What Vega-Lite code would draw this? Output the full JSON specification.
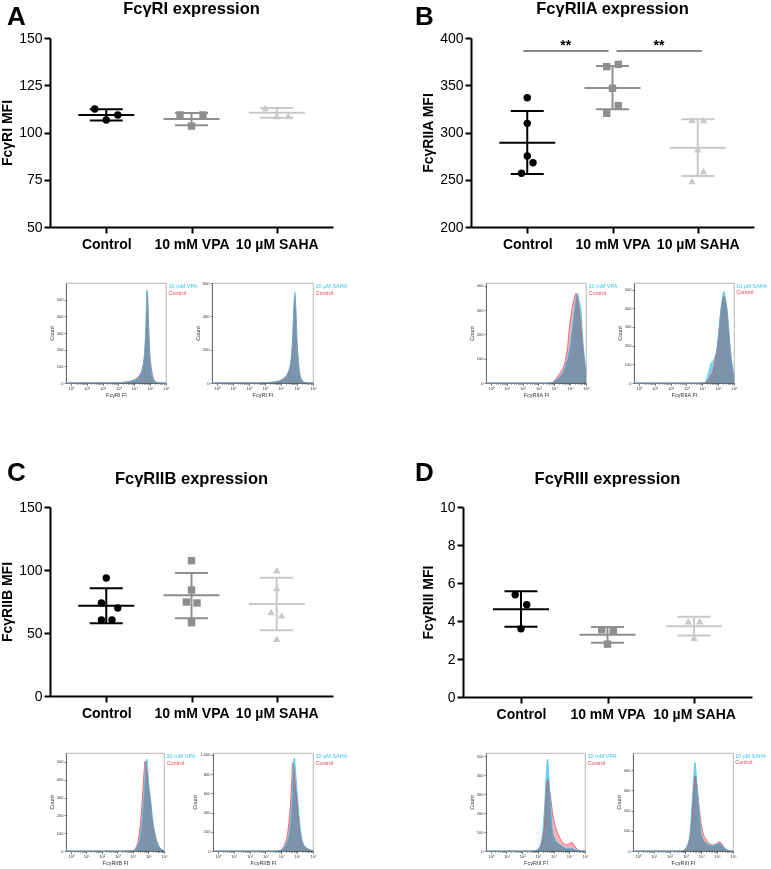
{
"$schema": "https://vega.github.io/schema/vega-lite/v6.json",
"background": "white",
"padding": {"left": 0, "top": 0, "right": 0, "bottom": 0},
"config": {
  "font": "Liberation Sans",
  "view": {"stroke": null},
  "title": {"font": "Liberation Sans", "color": "black"},
  "axis": {"labelFont": "Liberation Sans", "titleFont": "Liberation Sans", "labelFontSize": 14, "labelColor": "black", "domainColor": "black", "domainWidth": 2, "tickColor": "black", "tickWidth": 2, "tickSize": 6, "grid": false, "titleFontSize": 14, "titleFontWeight": "bold", "titleColor": "black", "labelPadding": 2, "titlePadding": 4, "labelOverlap": false}
},
"columns": 4,
"bounds": "flush",
"align": "each",
"spacing": {"row": 56, "column": 0},
"resolve": {"scale": {"color": "independent", "stroke": "independent", "shape": "independent"}, "legend": {"color": "independent", "stroke": "independent", "shape": "independent"}},
"datasets": {
  "A_pts": [
    {"group": "Control", "mfi": 112.4, "j": -1}, {"group": "Control", "mfi": 106.6, "j": 0}, {"group": "Control", "mfi": 109.3, "j": 1},
    {"group": "10 mM VPA", "mfi": 109.3, "j": -1}, {"group": "10 mM VPA", "mfi": 109.3, "j": 1}, {"group": "10 mM VPA", "mfi": 103.4, "j": 0},
    {"group": "10 µM SAHA", "mfi": 113.0, "j": -1}, {"group": "10 µM SAHA", "mfi": 108.7, "j": 0}, {"group": "10 µM SAHA", "mfi": 108.7, "j": 1}
  ],
  "A_sum": [
    {"group": "Control", "mean": 109.3, "lo": 106.4, "hi": 112.3},
    {"group": "10 mM VPA", "mean": 107.1, "lo": 103.8, "hi": 110.3},
    {"group": "10 µM SAHA", "mean": 110.5, "lo": 107.8, "hi": 113.0}
  ],
  "B_pts": [
    {"group": "Control", "mfi": 336.8, "j": 0}, {"group": "Control", "mfi": 309.7, "j": 0}, {"group": "Control", "mfi": 275.1, "j": 0}, {"group": "Control", "mfi": 268.0, "j": 0.5}, {"group": "Control", "mfi": 256.8, "j": -0.5},
    {"group": "10 mM VPA", "mfi": 369.7, "j": -0.5}, {"group": "10 mM VPA", "mfi": 372.1, "j": 0.5}, {"group": "10 mM VPA", "mfi": 346.8, "j": 0}, {"group": "10 mM VPA", "mfi": 328.4, "j": 0.5}, {"group": "10 mM VPA", "mfi": 320.3, "j": -0.5},
    {"group": "10 µM SAHA", "mfi": 313.2, "j": -0.5}, {"group": "10 µM SAHA", "mfi": 313.2, "j": 0.5}, {"group": "10 µM SAHA", "mfi": 282.2, "j": 0}, {"group": "10 µM SAHA", "mfi": 259.3, "j": 0.5}, {"group": "10 µM SAHA", "mfi": 248.7, "j": -0.5}
  ],
  "B_sum": [
    {"group": "Control", "mean": 289.2, "lo": 256.1, "hi": 322.8},
    {"group": "10 mM VPA", "mean": 347.1, "lo": 324.5, "hi": 370.4},
    {"group": "10 µM SAHA", "mean": 283.9, "lo": 254.0, "hi": 314.0}
  ],
  "B_sig": [
    {"from": "Control", "to": "10 mM VPA", "y": 386.2, "label": "**"},
    {"from": "10 mM VPA", "to": "10 µM SAHA", "y": 386.2, "label": "**"}
  ],
  "C_pts": [
    {"group": "Control", "mfi": 93.7, "j": 0}, {"group": "Control", "mfi": 73.8, "j": -0.42}, {"group": "Control", "mfi": 69.8, "j": 1}, {"group": "Control", "mfi": 60.3, "j": -0.42}, {"group": "Control", "mfi": 60.3, "j": 0.5},
    {"group": "10 mM VPA", "mfi": 107.4, "j": 0}, {"group": "10 mM VPA", "mfi": 84.1, "j": 0}, {"group": "10 mM VPA", "mfi": 74.6, "j": -0.45}, {"group": "10 mM VPA", "mfi": 73.8, "j": 0.48}, {"group": "10 mM VPA", "mfi": 58.2, "j": 0},
    {"group": "10 µM SAHA", "mfi": 99.8, "j": 0}, {"group": "10 µM SAHA", "mfi": 85.7, "j": 0}, {"group": "10 µM SAHA", "mfi": 66.7, "j": -0.5}, {"group": "10 µM SAHA", "mfi": 64.0, "j": 0.42}, {"group": "10 µM SAHA", "mfi": 45.5, "j": 0}
  ],
  "C_sum": [
    {"group": "Control", "mean": 71.7, "lo": 57.7, "hi": 85.5},
    {"group": "10 mM VPA", "mean": 79.9, "lo": 61.7, "hi": 97.6},
    {"group": "10 µM SAHA", "mean": 73.0, "lo": 52.1, "hi": 93.9}
  ],
  "D_pts": [
    {"group": "Control", "mfi": 5.38, "j": -0.5}, {"group": "Control", "mfi": 4.86, "j": 0.5}, {"group": "Control", "mfi": 3.59, "j": 0},
    {"group": "10 mM VPA", "mfi": 3.54, "j": -0.5}, {"group": "10 mM VPA", "mfi": 3.47, "j": 0.5}, {"group": "10 mM VPA", "mfi": 2.78, "j": 0},
    {"group": "10 µM SAHA", "mfi": 3.99, "j": -0.5}, {"group": "10 µM SAHA", "mfi": 3.99, "j": 0.5}, {"group": "10 µM SAHA", "mfi": 3.12, "j": 0}
  ],
  "D_sum": [
    {"group": "Control", "mean": 4.62, "lo": 3.70, "hi": 5.56},
    {"group": "10 mM VPA", "mean": 3.27, "lo": 2.85, "hi": 3.68},
    {"group": "10 µM SAHA", "mean": 3.73, "lo": 3.24, "hi": 4.23}
  ],
  "hA1": [
    {"sample": "Control", "log_fi": -0.3, "count": 0}, {"sample": "Control", "log_fi": 0.5, "count": 1}, {"sample": "Control", "log_fi": 1.5, "count": 1}, {"sample": "Control", "log_fi": 2.5, "count": 1}, {"sample": "Control", "log_fi": 3.0, "count": 2}, {"sample": "Control", "log_fi": 3.4, "count": 5}, {"sample": "Control", "log_fi": 3.7, "count": 10}, {"sample": "Control", "log_fi": 4.0, "count": 20}, {"sample": "Control", "log_fi": 4.2, "count": 32}, {"sample": "Control", "log_fi": 4.35, "count": 48}, {"sample": "Control", "log_fi": 4.5, "count": 82}, {"sample": "Control", "log_fi": 4.6, "count": 130}, {"sample": "Control", "log_fi": 4.68, "count": 215}, {"sample": "Control", "log_fi": 4.74, "count": 340}, {"sample": "Control", "log_fi": 4.78, "count": 470}, {"sample": "Control", "log_fi": 4.81, "count": 545}, {"sample": "Control", "log_fi": 4.84, "count": 515}, {"sample": "Control", "log_fi": 4.88, "count": 410}, {"sample": "Control", "log_fi": 4.93, "count": 280}, {"sample": "Control", "log_fi": 4.98, "count": 180}, {"sample": "Control", "log_fi": 5.05, "count": 105}, {"sample": "Control", "log_fi": 5.12, "count": 60}, {"sample": "Control", "log_fi": 5.2, "count": 30}, {"sample": "Control", "log_fi": 5.3, "count": 12}, {"sample": "Control", "log_fi": 5.45, "count": 4}, {"sample": "Control", "log_fi": 5.8, "count": 0}, {"sample": "Control", "log_fi": 6.0, "count": 0},
    {"sample": "10 mM VPA", "log_fi": -0.3, "count": 0}, {"sample": "10 mM VPA", "log_fi": 0.5, "count": 1}, {"sample": "10 mM VPA", "log_fi": 1.5, "count": 1}, {"sample": "10 mM VPA", "log_fi": 2.5, "count": 1}, {"sample": "10 mM VPA", "log_fi": 3.0, "count": 2}, {"sample": "10 mM VPA", "log_fi": 3.4, "count": 4}, {"sample": "10 mM VPA", "log_fi": 3.7, "count": 8}, {"sample": "10 mM VPA", "log_fi": 4.0, "count": 16}, {"sample": "10 mM VPA", "log_fi": 4.2, "count": 28}, {"sample": "10 mM VPA", "log_fi": 4.35, "count": 45}, {"sample": "10 mM VPA", "log_fi": 4.5, "count": 80}, {"sample": "10 mM VPA", "log_fi": 4.6, "count": 130}, {"sample": "10 mM VPA", "log_fi": 4.68, "count": 220}, {"sample": "10 mM VPA", "log_fi": 4.74, "count": 350}, {"sample": "10 mM VPA", "log_fi": 4.78, "count": 480}, {"sample": "10 mM VPA", "log_fi": 4.81, "count": 560}, {"sample": "10 mM VPA", "log_fi": 4.84, "count": 520}, {"sample": "10 mM VPA", "log_fi": 4.88, "count": 400}, {"sample": "10 mM VPA", "log_fi": 4.93, "count": 260}, {"sample": "10 mM VPA", "log_fi": 4.98, "count": 160}, {"sample": "10 mM VPA", "log_fi": 5.05, "count": 90}, {"sample": "10 mM VPA", "log_fi": 5.12, "count": 45}, {"sample": "10 mM VPA", "log_fi": 5.2, "count": 20}, {"sample": "10 mM VPA", "log_fi": 5.3, "count": 7}, {"sample": "10 mM VPA", "log_fi": 5.5, "count": 2}, {"sample": "10 mM VPA", "log_fi": 5.8, "count": 0}, {"sample": "10 mM VPA", "log_fi": 6.0, "count": 0}
  ],
  "hA2": [
    {"sample": "Control", "log_fi": -0.3, "count": 0}, {"sample": "Control", "log_fi": 1.0, "count": 1}, {"sample": "Control", "log_fi": 2.5, "count": 1}, {"sample": "Control", "log_fi": 3.2, "count": 3}, {"sample": "Control", "log_fi": 3.6, "count": 6}, {"sample": "Control", "log_fi": 4.0, "count": 16}, {"sample": "Control", "log_fi": 4.25, "count": 32}, {"sample": "Control", "log_fi": 4.45, "count": 60}, {"sample": "Control", "log_fi": 4.6, "count": 112}, {"sample": "Control", "log_fi": 4.7, "count": 210}, {"sample": "Control", "log_fi": 4.78, "count": 370}, {"sample": "Control", "log_fi": 4.84, "count": 500}, {"sample": "Control", "log_fi": 4.87, "count": 525}, {"sample": "Control", "log_fi": 4.9, "count": 490}, {"sample": "Control", "log_fi": 4.95, "count": 380}, {"sample": "Control", "log_fi": 5.0, "count": 255}, {"sample": "Control", "log_fi": 5.07, "count": 150}, {"sample": "Control", "log_fi": 5.15, "count": 72}, {"sample": "Control", "log_fi": 5.25, "count": 30}, {"sample": "Control", "log_fi": 5.4, "count": 8}, {"sample": "Control", "log_fi": 5.7, "count": 1}, {"sample": "Control", "log_fi": 6.0, "count": 0},
    {"sample": "10 µM SAHA", "log_fi": -0.3, "count": 0}, {"sample": "10 µM SAHA", "log_fi": 1.0, "count": 1}, {"sample": "10 µM SAHA", "log_fi": 2.5, "count": 1}, {"sample": "10 µM SAHA", "log_fi": 3.2, "count": 3}, {"sample": "10 µM SAHA", "log_fi": 3.6, "count": 7}, {"sample": "10 µM SAHA", "log_fi": 4.0, "count": 18}, {"sample": "10 µM SAHA", "log_fi": 4.25, "count": 35}, {"sample": "10 µM SAHA", "log_fi": 4.45, "count": 65}, {"sample": "10 µM SAHA", "log_fi": 4.6, "count": 120}, {"sample": "10 µM SAHA", "log_fi": 4.7, "count": 220}, {"sample": "10 µM SAHA", "log_fi": 4.78, "count": 380}, {"sample": "10 µM SAHA", "log_fi": 4.84, "count": 510}, {"sample": "10 µM SAHA", "log_fi": 4.87, "count": 545}, {"sample": "10 µM SAHA", "log_fi": 4.9, "count": 500}, {"sample": "10 µM SAHA", "log_fi": 4.95, "count": 380}, {"sample": "10 µM SAHA", "log_fi": 5.0, "count": 250}, {"sample": "10 µM SAHA", "log_fi": 5.07, "count": 140}, {"sample": "10 µM SAHA", "log_fi": 5.15, "count": 65}, {"sample": "10 µM SAHA", "log_fi": 5.25, "count": 25}, {"sample": "10 µM SAHA", "log_fi": 5.4, "count": 6}, {"sample": "10 µM SAHA", "log_fi": 5.7, "count": 1}, {"sample": "10 µM SAHA", "log_fi": 6.0, "count": 0}
  ],
  "hB1": [
    {"sample": "Control", "log_fi": -0.3, "count": 0}, {"sample": "Control", "log_fi": 3.5, "count": 0}, {"sample": "Control", "log_fi": 3.9, "count": 3}, {"sample": "Control", "log_fi": 4.1, "count": 17}, {"sample": "Control", "log_fi": 4.4, "count": 45}, {"sample": "Control", "log_fi": 4.68, "count": 87}, {"sample": "Control", "log_fi": 4.85, "count": 154}, {"sample": "Control", "log_fi": 4.95, "count": 225}, {"sample": "Control", "log_fi": 5.1, "count": 296}, {"sample": "Control", "log_fi": 5.26, "count": 350}, {"sample": "Control", "log_fi": 5.37, "count": 370}, {"sample": "Control", "log_fi": 5.45, "count": 355}, {"sample": "Control", "log_fi": 5.55, "count": 310}, {"sample": "Control", "log_fi": 5.65, "count": 250}, {"sample": "Control", "log_fi": 5.75, "count": 180}, {"sample": "Control", "log_fi": 5.85, "count": 120}, {"sample": "Control", "log_fi": 5.95, "count": 65}, {"sample": "Control", "log_fi": 6.0, "count": 45},
    {"sample": "10 mM VPA", "log_fi": -0.3, "count": 0}, {"sample": "10 mM VPA", "log_fi": 3.5, "count": 0}, {"sample": "10 mM VPA", "log_fi": 3.9, "count": 2}, {"sample": "10 mM VPA", "log_fi": 4.2, "count": 17}, {"sample": "10 mM VPA", "log_fi": 4.5, "count": 40}, {"sample": "10 mM VPA", "log_fi": 4.78, "count": 87}, {"sample": "10 mM VPA", "log_fi": 5.0, "count": 154}, {"sample": "10 mM VPA", "log_fi": 5.13, "count": 225}, {"sample": "10 mM VPA", "log_fi": 5.26, "count": 296}, {"sample": "10 mM VPA", "log_fi": 5.37, "count": 350}, {"sample": "10 mM VPA", "log_fi": 5.48, "count": 368}, {"sample": "10 mM VPA", "log_fi": 5.56, "count": 340}, {"sample": "10 mM VPA", "log_fi": 5.69, "count": 296}, {"sample": "10 mM VPA", "log_fi": 5.76, "count": 220}, {"sample": "10 mM VPA", "log_fi": 5.83, "count": 154}, {"sample": "10 mM VPA", "log_fi": 5.92, "count": 90}, {"sample": "10 mM VPA", "log_fi": 6.0, "count": 40}
  ],
  "hB2": [
    {"sample": "Control", "log_fi": -0.3, "count": 0}, {"sample": "Control", "log_fi": 3.8, "count": 0}, {"sample": "Control", "log_fi": 4.17, "count": 2}, {"sample": "Control", "log_fi": 4.4, "count": 20}, {"sample": "Control", "log_fi": 4.6, "count": 50}, {"sample": "Control", "log_fi": 4.7, "count": 70}, {"sample": "Control", "log_fi": 4.8, "count": 115}, {"sample": "Control", "log_fi": 4.95, "count": 197}, {"sample": "Control", "log_fi": 5.06, "count": 288}, {"sample": "Control", "log_fi": 5.16, "count": 375}, {"sample": "Control", "log_fi": 5.26, "count": 440}, {"sample": "Control", "log_fi": 5.33, "count": 460}, {"sample": "Control", "log_fi": 5.38, "count": 462}, {"sample": "Control", "log_fi": 5.44, "count": 450}, {"sample": "Control", "log_fi": 5.5, "count": 420}, {"sample": "Control", "log_fi": 5.58, "count": 370}, {"sample": "Control", "log_fi": 5.66, "count": 285}, {"sample": "Control", "log_fi": 5.75, "count": 195}, {"sample": "Control", "log_fi": 5.82, "count": 130}, {"sample": "Control", "log_fi": 5.9, "count": 85}, {"sample": "Control", "log_fi": 6.0, "count": 25},
    {"sample": "10 µM SAHA", "log_fi": -0.3, "count": 0}, {"sample": "10 µM SAHA", "log_fi": 3.8, "count": 0}, {"sample": "10 µM SAHA", "log_fi": 4.17, "count": 3}, {"sample": "10 µM SAHA", "log_fi": 4.3, "count": 30}, {"sample": "10 µM SAHA", "log_fi": 4.45, "count": 70}, {"sample": "10 µM SAHA", "log_fi": 4.55, "count": 105}, {"sample": "10 µM SAHA", "log_fi": 4.66, "count": 115}, {"sample": "10 µM SAHA", "log_fi": 4.8, "count": 140}, {"sample": "10 µM SAHA", "log_fi": 4.95, "count": 197}, {"sample": "10 µM SAHA", "log_fi": 5.06, "count": 288}, {"sample": "10 µM SAHA", "log_fi": 5.16, "count": 380}, {"sample": "10 µM SAHA", "log_fi": 5.26, "count": 450}, {"sample": "10 µM SAHA", "log_fi": 5.32, "count": 480}, {"sample": "10 µM SAHA", "log_fi": 5.37, "count": 490}, {"sample": "10 µM SAHA", "log_fi": 5.42, "count": 470}, {"sample": "10 µM SAHA", "log_fi": 5.5, "count": 430}, {"sample": "10 µM SAHA", "log_fi": 5.58, "count": 380}, {"sample": "10 µM SAHA", "log_fi": 5.66, "count": 290}, {"sample": "10 µM SAHA", "log_fi": 5.75, "count": 197}, {"sample": "10 µM SAHA", "log_fi": 5.82, "count": 130}, {"sample": "10 µM SAHA", "log_fi": 5.9, "count": 87}, {"sample": "10 µM SAHA", "log_fi": 6.0, "count": 25}
  ],
  "hC1": [
    {"sample": "Control", "log_fi": -0.3, "count": 0}, {"sample": "Control", "log_fi": 3.6, "count": 0}, {"sample": "Control", "log_fi": 4.0, "count": 3}, {"sample": "Control", "log_fi": 4.2, "count": 20}, {"sample": "Control", "log_fi": 4.41, "count": 97}, {"sample": "Control", "log_fi": 4.5, "count": 170}, {"sample": "Control", "log_fi": 4.6, "count": 287}, {"sample": "Control", "log_fi": 4.7, "count": 420}, {"sample": "Control", "log_fi": 4.78, "count": 505}, {"sample": "Control", "log_fi": 4.83, "count": 490}, {"sample": "Control", "log_fi": 4.9, "count": 440}, {"sample": "Control", "log_fi": 5.0, "count": 360}, {"sample": "Control", "log_fi": 5.12, "count": 287}, {"sample": "Control", "log_fi": 5.22, "count": 200}, {"sample": "Control", "log_fi": 5.4, "count": 97}, {"sample": "Control", "log_fi": 5.6, "count": 38}, {"sample": "Control", "log_fi": 5.8, "count": 12}, {"sample": "Control", "log_fi": 6.0, "count": 3},
    {"sample": "10 mM VPA", "log_fi": -0.3, "count": 0}, {"sample": "10 mM VPA", "log_fi": 3.6, "count": 0}, {"sample": "10 mM VPA", "log_fi": 4.03, "count": 3}, {"sample": "10 mM VPA", "log_fi": 4.25, "count": 20}, {"sample": "10 mM VPA", "log_fi": 4.5, "count": 97}, {"sample": "10 mM VPA", "log_fi": 4.6, "count": 180}, {"sample": "10 mM VPA", "log_fi": 4.69, "count": 287}, {"sample": "10 mM VPA", "log_fi": 4.78, "count": 420}, {"sample": "10 mM VPA", "log_fi": 4.85, "count": 495}, {"sample": "10 mM VPA", "log_fi": 4.89, "count": 515}, {"sample": "10 mM VPA", "log_fi": 4.95, "count": 470}, {"sample": "10 mM VPA", "log_fi": 5.02, "count": 380}, {"sample": "10 mM VPA", "log_fi": 5.14, "count": 287}, {"sample": "10 mM VPA", "log_fi": 5.25, "count": 190}, {"sample": "10 mM VPA", "log_fi": 5.42, "count": 97}, {"sample": "10 mM VPA", "log_fi": 5.6, "count": 40}, {"sample": "10 mM VPA", "log_fi": 5.8, "count": 12}, {"sample": "10 mM VPA", "log_fi": 6.0, "count": 3}
  ],
  "hC2": [
    {"sample": "Control", "log_fi": -0.3, "count": 0}, {"sample": "Control", "log_fi": 3.5, "count": 0}, {"sample": "Control", "log_fi": 3.9, "count": 6}, {"sample": "Control", "log_fi": 4.15, "count": 45}, {"sample": "Control", "log_fi": 4.4, "count": 180}, {"sample": "Control", "log_fi": 4.5, "count": 330}, {"sample": "Control", "log_fi": 4.6, "count": 532}, {"sample": "Control", "log_fi": 4.67, "count": 780}, {"sample": "Control", "log_fi": 4.72, "count": 917}, {"sample": "Control", "log_fi": 4.78, "count": 880}, {"sample": "Control", "log_fi": 4.88, "count": 700}, {"sample": "Control", "log_fi": 4.98, "count": 532}, {"sample": "Control", "log_fi": 5.1, "count": 320}, {"sample": "Control", "log_fi": 5.2, "count": 180}, {"sample": "Control", "log_fi": 5.38, "count": 70}, {"sample": "Control", "log_fi": 5.6, "count": 30}, {"sample": "Control", "log_fi": 5.8, "count": 12}, {"sample": "Control", "log_fi": 6.0, "count": 5},
    {"sample": "10 µM SAHA", "log_fi": -0.3, "count": 0}, {"sample": "10 µM SAHA", "log_fi": 3.5, "count": 0}, {"sample": "10 µM SAHA", "log_fi": 3.92, "count": 5}, {"sample": "10 µM SAHA", "log_fi": 4.2, "count": 40}, {"sample": "10 µM SAHA", "log_fi": 4.5, "count": 180}, {"sample": "10 µM SAHA", "log_fi": 4.6, "count": 340}, {"sample": "10 µM SAHA", "log_fi": 4.68, "count": 532}, {"sample": "10 µM SAHA", "log_fi": 4.75, "count": 800}, {"sample": "10 µM SAHA", "log_fi": 4.82, "count": 969}, {"sample": "10 µM SAHA", "log_fi": 4.87, "count": 900}, {"sample": "10 µM SAHA", "log_fi": 4.95, "count": 720}, {"sample": "10 µM SAHA", "log_fi": 5.04, "count": 532}, {"sample": "10 µM SAHA", "log_fi": 5.14, "count": 330}, {"sample": "10 µM SAHA", "log_fi": 5.24, "count": 180}, {"sample": "10 µM SAHA", "log_fi": 5.4, "count": 70}, {"sample": "10 µM SAHA", "log_fi": 5.6, "count": 30}, {"sample": "10 µM SAHA", "log_fi": 5.8, "count": 12}, {"sample": "10 µM SAHA", "log_fi": 6.0, "count": 5}
  ],
  "hD1": [
    {"sample": "Control", "log_fi": -0.3, "count": 0}, {"sample": "Control", "log_fi": 2.5, "count": 0}, {"sample": "Control", "log_fi": 2.86, "count": 2}, {"sample": "Control", "log_fi": 3.1, "count": 15}, {"sample": "Control", "log_fi": 3.39, "count": 114}, {"sample": "Control", "log_fi": 3.5, "count": 290}, {"sample": "Control", "log_fi": 3.58, "count": 360}, {"sample": "Control", "log_fi": 3.63, "count": 377}, {"sample": "Control", "log_fi": 3.7, "count": 340}, {"sample": "Control", "log_fi": 3.8, "count": 290}, {"sample": "Control", "log_fi": 3.96, "count": 184}, {"sample": "Control", "log_fi": 4.17, "count": 114}, {"sample": "Control", "log_fi": 4.3, "count": 85}, {"sample": "Control", "log_fi": 4.45, "count": 61}, {"sample": "Control", "log_fi": 4.6, "count": 42}, {"sample": "Control", "log_fi": 4.8, "count": 32}, {"sample": "Control", "log_fi": 4.95, "count": 36}, {"sample": "Control", "log_fi": 5.1, "count": 44}, {"sample": "Control", "log_fi": 5.2, "count": 43}, {"sample": "Control", "log_fi": 5.35, "count": 25}, {"sample": "Control", "log_fi": 5.51, "count": 8}, {"sample": "Control", "log_fi": 5.7, "count": 2}, {"sample": "Control", "log_fi": 6.0, "count": 0},
    {"sample": "10 mM VPA", "log_fi": -0.3, "count": 0}, {"sample": "10 mM VPA", "log_fi": 2.5, "count": 0}, {"sample": "10 mM VPA", "log_fi": 2.86, "count": 3}, {"sample": "10 mM VPA", "log_fi": 3.1, "count": 20}, {"sample": "10 mM VPA", "log_fi": 3.33, "count": 114}, {"sample": "10 mM VPA", "log_fi": 3.47, "count": 290}, {"sample": "10 mM VPA", "log_fi": 3.55, "count": 420}, {"sample": "10 mM VPA", "log_fi": 3.62, "count": 483}, {"sample": "10 mM VPA", "log_fi": 3.68, "count": 420}, {"sample": "10 mM VPA", "log_fi": 3.77, "count": 290}, {"sample": "10 mM VPA", "log_fi": 3.85, "count": 180}, {"sample": "10 mM VPA", "log_fi": 3.92, "count": 114}, {"sample": "10 mM VPA", "log_fi": 4.05, "count": 70}, {"sample": "10 mM VPA", "log_fi": 4.25, "count": 45}, {"sample": "10 mM VPA", "log_fi": 4.5, "count": 28}, {"sample": "10 mM VPA", "log_fi": 4.8, "count": 15}, {"sample": "10 mM VPA", "log_fi": 5.15, "count": 13}, {"sample": "10 mM VPA", "log_fi": 5.45, "count": 5}, {"sample": "10 mM VPA", "log_fi": 5.7, "count": 1}, {"sample": "10 mM VPA", "log_fi": 6.0, "count": 0}
  ],
  "hD2": [
    {"sample": "Control", "log_fi": -0.3, "count": 0}, {"sample": "Control", "log_fi": 2.5, "count": 0}, {"sample": "Control", "log_fi": 2.87, "count": 2}, {"sample": "Control", "log_fi": 3.1, "count": 18}, {"sample": "Control", "log_fi": 3.33, "count": 87}, {"sample": "Control", "log_fi": 3.47, "count": 253}, {"sample": "Control", "log_fi": 3.55, "count": 340}, {"sample": "Control", "log_fi": 3.62, "count": 370}, {"sample": "Control", "log_fi": 3.7, "count": 340}, {"sample": "Control", "log_fi": 3.82, "count": 253}, {"sample": "Control", "log_fi": 3.95, "count": 160}, {"sample": "Control", "log_fi": 4.12, "count": 87}, {"sample": "Control", "log_fi": 4.3, "count": 58}, {"sample": "Control", "log_fi": 4.5, "count": 38}, {"sample": "Control", "log_fi": 4.74, "count": 29}, {"sample": "Control", "log_fi": 4.95, "count": 36}, {"sample": "Control", "log_fi": 5.12, "count": 45}, {"sample": "Control", "log_fi": 5.25, "count": 40}, {"sample": "Control", "log_fi": 5.4, "count": 22}, {"sample": "Control", "log_fi": 5.55, "count": 8}, {"sample": "Control", "log_fi": 5.7, "count": 3}, {"sample": "Control", "log_fi": 6.0, "count": 0},
    {"sample": "10 µM SAHA", "log_fi": -0.3, "count": 0}, {"sample": "10 µM SAHA", "log_fi": 2.5, "count": 0}, {"sample": "10 µM SAHA", "log_fi": 2.87, "count": 3}, {"sample": "10 µM SAHA", "log_fi": 3.1, "count": 25}, {"sample": "10 µM SAHA", "log_fi": 3.29, "count": 87}, {"sample": "10 µM SAHA", "log_fi": 3.44, "count": 253}, {"sample": "10 µM SAHA", "log_fi": 3.53, "count": 370}, {"sample": "10 µM SAHA", "log_fi": 3.61, "count": 437}, {"sample": "10 µM SAHA", "log_fi": 3.68, "count": 380}, {"sample": "10 µM SAHA", "log_fi": 3.8, "count": 253}, {"sample": "10 µM SAHA", "log_fi": 3.9, "count": 160}, {"sample": "10 µM SAHA", "log_fi": 4.0, "count": 87}, {"sample": "10 µM SAHA", "log_fi": 4.15, "count": 55}, {"sample": "10 µM SAHA", "log_fi": 4.35, "count": 38}, {"sample": "10 µM SAHA", "log_fi": 4.6, "count": 27}, {"sample": "10 µM SAHA", "log_fi": 4.85, "count": 28}, {"sample": "10 µM SAHA", "log_fi": 5.05, "count": 36}, {"sample": "10 µM SAHA", "log_fi": 5.15, "count": 38}, {"sample": "10 µM SAHA", "log_fi": 5.3, "count": 28}, {"sample": "10 µM SAHA", "log_fi": 5.5, "count": 10}, {"sample": "10 µM SAHA", "log_fi": 5.7, "count": 3}, {"sample": "10 µM SAHA", "log_fi": 6.0, "count": 0}
  ]
},
"concat": [
  {"width": 50, "height": 1, "data": {"values": []}, "mark": "point",
   "title": {"text": "A", "fontSize": 26, "fontWeight": "bold", "anchor": "start", "dx": 7, "offset": 0, "dy": 13, "baseline": "alphabetic"}},
  {"width": 283, "height": 189,
   "title": {"text": "FcγRI expression", "fontSize": 16.5, "fontWeight": "bold", "anchor": "middle", "offset": 1, "baseline": "alphabetic"},
   "layer": [
    {"data": {"name": "A_sum"}, "mark": {"type": "rule", "strokeWidth": 2},
     "encoding": {"x": {"field": "group", "type": "nominal", "scale": {"type": "point", "domain": ["Control", "10 mM VPA", "10 µM SAHA"], "padding": 0.66}, "axis": {"labelFontWeight": "bold", "labelAngle": 0, "labelPadding": 4, "labelOverlap": false}, "title": null},
      "y": {"field": "lo", "type": "quantitative", "scale": {"domain": [50, 150], "nice": false, "zero": false}, "axis": {"values": [50, 75, 100, 125, 150], "tickCount": 20, "format": "d"}, "title": "FcγRI MFI"},
      "y2": {"field": "hi"},
      "color": {"field": "group", "type": "nominal", "scale": {"domain": ["Control", "10 mM VPA", "10 µM SAHA"], "range": ["#000000", "#8e8e8e", "#c9c9c9"]}, "legend": null}}},
    {"data": {"name": "A_sum"}, "mark": {"type": "tick", "size": 33, "thickness": 2, "orient": "horizontal", "opacity": 1},
     "encoding": {"x": {"field": "group", "type": "nominal", "title": null}, "y": {"field": "lo", "type": "quantitative", "title": "FcγRI MFI"}, "color": {"field": "group", "type": "nominal", "legend": null}}},
    {"data": {"name": "A_sum"}, "mark": {"type": "tick", "size": 33, "thickness": 2, "orient": "horizontal", "opacity": 1},
     "encoding": {"x": {"field": "group", "type": "nominal", "title": null}, "y": {"field": "hi", "type": "quantitative", "title": "FcγRI MFI"}, "color": {"field": "group", "type": "nominal", "legend": null}}},
    {"data": {"name": "A_sum"}, "mark": {"type": "tick", "size": 56, "thickness": 2, "orient": "horizontal", "opacity": 1},
     "encoding": {"x": {"field": "group", "type": "nominal", "title": null}, "y": {"field": "mean", "type": "quantitative", "title": "FcγRI MFI"}, "color": {"field": "group", "type": "nominal", "legend": null}}},
    {"data": {"name": "A_pts"}, "mark": {"type": "point", "filled": true, "opacity": 1, "size": 55},
     "encoding": {"x": {"field": "group", "type": "nominal", "title": null},
      "xOffset": {"field": "j", "type": "quantitative", "scale": {"domain": [-1, 1], "range": [-11.5, 11.5]}},
      "y": {"field": "mfi", "type": "quantitative", "title": "FcγRI MFI"},
      "color": {"field": "group", "type": "nominal", "legend": null},
      "shape": {"field": "group", "type": "nominal", "scale": {"domain": ["Control", "10 mM VPA", "10 µM SAHA"], "range": ["circle", "square", "triangle-up"]}, "legend": null}}}
   ]},
  {"width": 130, "height": 1, "data": {"values": []}, "mark": "point",
   "title": {"text": "B", "fontSize": 26, "fontWeight": "bold", "anchor": "start", "dx": 82, "offset": 0, "dy": 13, "baseline": "alphabetic"}},
  {"hconcat": [
    {"width": 8, "height": 1, "data": {"values": []}, "mark": "point"},
    {"width": 283, "height": 189,
     "title": {"text": "FcγRIIA expression", "fontSize": 16.5, "fontWeight": "bold", "anchor": "middle", "offset": 1, "baseline": "alphabetic"},
     "layer": [
      {"data": {"name": "B_sum"}, "mark": {"type": "rule", "strokeWidth": 2},
       "encoding": {"x": {"field": "group", "type": "nominal", "scale": {"type": "point", "domain": ["Control", "10 mM VPA", "10 µM SAHA"], "padding": 0.66}, "axis": {"labelFontWeight": "bold", "labelAngle": 0, "labelPadding": 4, "labelOverlap": false}, "title": null},
        "y": {"field": "lo", "type": "quantitative", "scale": {"domain": [200, 400], "nice": false, "zero": false}, "axis": {"values": [200, 250, 300, 350, 400], "tickCount": 20, "format": "d"}, "title": "FcγRIIA MFI"},
        "y2": {"field": "hi"},
        "color": {"field": "group", "type": "nominal", "scale": {"domain": ["Control", "10 mM VPA", "10 µM SAHA"], "range": ["#000000", "#8e8e8e", "#c9c9c9"]}, "legend": null}}},
      {"data": {"name": "B_sum"}, "mark": {"type": "tick", "size": 33, "thickness": 2, "orient": "horizontal", "opacity": 1},
       "encoding": {"x": {"field": "group", "type": "nominal", "title": null}, "y": {"field": "lo", "type": "quantitative", "title": "FcγRIIA MFI"}, "color": {"field": "group", "type": "nominal", "legend": null}}},
      {"data": {"name": "B_sum"}, "mark": {"type": "tick", "size": 33, "thickness": 2, "orient": "horizontal", "opacity": 1},
       "encoding": {"x": {"field": "group", "type": "nominal", "title": null}, "y": {"field": "hi", "type": "quantitative", "title": "FcγRIIA MFI"}, "color": {"field": "group", "type": "nominal", "legend": null}}},
      {"data": {"name": "B_sum"}, "mark": {"type": "tick", "size": 56, "thickness": 2, "orient": "horizontal", "opacity": 1},
       "encoding": {"x": {"field": "group", "type": "nominal", "title": null}, "y": {"field": "mean", "type": "quantitative", "title": "FcγRIIA MFI"}, "color": {"field": "group", "type": "nominal", "legend": null}}},
      {"data": {"name": "B_pts"}, "mark": {"type": "point", "filled": true, "opacity": 1, "size": 55},
       "encoding": {"x": {"field": "group", "type": "nominal", "title": null},
        "xOffset": {"field": "j", "type": "quantitative", "scale": {"domain": [-1, 1], "range": [-11.5, 11.5]}},
        "y": {"field": "mfi", "type": "quantitative", "title": "FcγRIIA MFI"},
        "color": {"field": "group", "type": "nominal", "legend": null},
        "shape": {"field": "group", "type": "nominal", "scale": {"domain": ["Control", "10 mM VPA", "10 µM SAHA"], "range": ["circle", "square", "triangle-up"]}, "legend": null}}},
      {"data": {"name": "B_sig"}, "transform": [{"filter": "datum.from === 'Control'"}],
       "mark": {"type": "rule", "strokeWidth": 1.5, "color": "#5f5f5f", "xOffset": -4, "x2Offset": -4},
       "encoding": {"x": {"field": "from", "type": "nominal", "title": null}, "x2": {"field": "to"}, "y": {"field": "y", "type": "quantitative", "title": "FcγRIIA MFI"}}},
      {"data": {"name": "B_sig"}, "transform": [{"filter": "datum.from !== 'Control'"}],
       "mark": {"type": "rule", "strokeWidth": 1.5, "color": "#5f5f5f", "xOffset": 4, "x2Offset": 4},
       "encoding": {"x": {"field": "from", "type": "nominal", "title": null}, "x2": {"field": "to"}, "y": {"field": "y", "type": "quantitative", "title": "FcγRIIA MFI"}}},
      {"data": {"name": "B_sig"}, "transform": [{"filter": "datum.from === 'Control'"}],
       "mark": {"type": "text", "fontSize": 14, "fontWeight": "bold", "dx": 38.5, "dy": -1, "baseline": "alphabetic", "align": "center", "color": "black"},
       "encoding": {"x": {"field": "from", "type": "nominal", "title": null}, "y": {"field": "y", "type": "quantitative", "title": "FcγRIIA MFI"}, "text": {"field": "label"}}},
      {"data": {"name": "B_sig"}, "transform": [{"filter": "datum.from !== 'Control'"}],
       "mark": {"type": "text", "fontSize": 14, "fontWeight": "bold", "dx": 46.5, "dy": -1, "baseline": "alphabetic", "align": "center", "color": "black"},
       "encoding": {"x": {"field": "from", "type": "nominal", "title": null}, "y": {"field": "y", "type": "quantitative", "title": "FcγRIIA MFI"}, "text": {"field": "label"}}}
     ]}
   ], "spacing": 0, "bounds": "flush", "resolve": {"scale": {"color": "independent", "shape": "independent"}}},

  {"width": 50, "height": 168, "data": {"values": []}, "mark": "point"},
  {"hconcat": [
    {"width": 16, "height": 1, "data": {"values": []}, "mark": "point"},
    {"width": 100, "height": 100, "view": {"stroke": "#a3a3a3", "strokeWidth": 0.8}, "data": {"name": "hA1"},
     "encoding": {
      "x": {"field": "log_fi", "type": "quantitative", "scale": {"domain": [-0.3, 6], "nice": false, "zero": false},
       "axis": {"title": "FcγRI FI", "tickCount": 200, "values": [0,0.301,0.477,0.602,0.699,0.778,0.845,0.903,0.954,1,1.301,1.477,1.602,1.699,1.778,1.845,1.903,1.954,2,2.301,2.477,2.602,2.699,2.778,2.845,2.903,2.954,3,3.301,3.477,3.602,3.699,3.778,3.845,3.903,3.954,4,4.301,4.477,4.602,4.699,4.778,4.845,4.903,4.954,5,5.301,5.477,5.602,5.699,5.778,5.845,5.903,5.954,6], "labelExpr": "datum.value % 1 === 0 ? '10' + ['⁰','¹','²','³','⁴','⁵','⁶'][datum.value] : ''", "labelFontSize": 4, "labelPadding": 1, "labelColor": "#333", "labelFontWeight": "normal", "labelOverlap": false, "labelFlush": false, "tickSize": {"condition": {"test": "datum.value % 1 === 0", "value": 2.5}, "value": 1.2}, "tickWidth": 0.6, "tickColor": "#333", "domainColor": "#444", "domainWidth": 0.7, "titleFontSize": 5.5, "titleFontWeight": "normal", "titleColor": "#333", "titlePadding": 2}},
      "y": {"field": "count", "type": "quantitative", "stack": null, "scale": {"domain": [0, 600], "nice": false},
       "axis": {"title": "Count", "tickCount": 50, "values": [0, 100, 200, 300, 400, 500], "format": ",d", "labelFontSize": 4, "labelPadding": 1, "labelColor": "#333", "labelFontWeight": "normal", "tickSize": 2, "tickWidth": 0.6, "tickColor": "#333", "domainColor": "#444", "domainWidth": 0.7, "titleFontSize": 5.5, "titleFontWeight": "normal", "titleColor": "#333", "titlePadding": 2}}
     },
     "layer": [
      {"mark": {"type": "area", "blend": "multiply", "interpolate": "monotone"},
       "encoding": {"color": {"field": "sample", "type": "nominal", "scale": {"domain": ["10 mM VPA", "Control"], "range": ["#7fd3ee", "#f7b3b7"]},
        "legend": {"title": null, "orient": "right", "offset": -5, "padding": 0, "symbolSize": 0, "symbolStrokeWidth": 0, "symbolOpacity": 0, "labelFontSize": 5.5, "labelOffset": 0, "rowPadding": 0.5, "labelLimit": 0, "encode": {"labels": {"update": {"fill": {"signal": "datum.value === 'Control' ? '#ee4850' : '#33c5f0'"}}}}}}}},
      {"mark": {"type": "line", "strokeWidth": 0.8, "interpolate": "monotone"},
       "encoding": {"stroke": {"field": "sample", "type": "nominal", "scale": {"domain": ["10 mM VPA", "Control"], "range": ["#33c5f0", "#ee4850"]}, "legend": null}}}
     ]},
    {"width": 46, "height": 1, "data": {"values": []}, "mark": "point"},
    {"width": 101, "height": 100, "view": {"stroke": "#a3a3a3", "strokeWidth": 0.8}, "data": {"name": "hA2"},
     "encoding": {
      "x": {"field": "log_fi", "type": "quantitative", "scale": {"domain": [-0.3, 6], "nice": false, "zero": false},
       "axis": {"title": "FcγRI FI", "tickCount": 200, "values": [0,0.301,0.477,0.602,0.699,0.778,0.845,0.903,0.954,1,1.301,1.477,1.602,1.699,1.778,1.845,1.903,1.954,2,2.301,2.477,2.602,2.699,2.778,2.845,2.903,2.954,3,3.301,3.477,3.602,3.699,3.778,3.845,3.903,3.954,4,4.301,4.477,4.602,4.699,4.778,4.845,4.903,4.954,5,5.301,5.477,5.602,5.699,5.778,5.845,5.903,5.954,6], "labelExpr": "datum.value % 1 === 0 ? '10' + ['⁰','¹','²','³','⁴','⁵','⁶'][datum.value] : ''", "labelFontSize": 4, "labelPadding": 1, "labelColor": "#333", "labelFontWeight": "normal", "labelOverlap": false, "labelFlush": false, "tickSize": {"condition": {"test": "datum.value % 1 === 0", "value": 2.5}, "value": 1.2}, "tickWidth": 0.6, "tickColor": "#333", "domainColor": "#444", "domainWidth": 0.7, "titleFontSize": 5.5, "titleFontWeight": "normal", "titleColor": "#333", "titlePadding": 2}},
      "y": {"field": "count", "type": "quantitative", "stack": null, "scale": {"domain": [0, 600], "nice": false},
       "axis": {"title": "Count", "tickCount": 50, "values": [0, 200, 400, 600], "format": ",d", "labelFontSize": 4, "labelPadding": 1, "labelColor": "#333", "labelFontWeight": "normal", "tickSize": 2, "tickWidth": 0.6, "tickColor": "#333", "domainColor": "#444", "domainWidth": 0.7, "titleFontSize": 5.5, "titleFontWeight": "normal", "titleColor": "#333", "titlePadding": 2}}
     },
     "layer": [
      {"mark": {"type": "area", "blend": "multiply", "interpolate": "monotone"},
       "encoding": {"color": {"field": "sample", "type": "nominal", "scale": {"domain": ["10 µM SAHA", "Control"], "range": ["#7fd3ee", "#f7b3b7"]},
        "legend": {"title": null, "orient": "right", "offset": -5, "padding": 0, "symbolSize": 0, "symbolStrokeWidth": 0, "symbolOpacity": 0, "labelFontSize": 5.5, "labelOffset": 0, "rowPadding": 0.5, "labelLimit": 0, "encode": {"labels": {"update": {"fill": {"signal": "datum.value === 'Control' ? '#ee4850' : '#33c5f0'"}}}}}}}},
      {"mark": {"type": "line", "strokeWidth": 0.8, "interpolate": "monotone"},
       "encoding": {"stroke": {"field": "sample", "type": "nominal", "scale": {"domain": ["10 µM SAHA", "Control"], "range": ["#33c5f0", "#ee4850"]}, "legend": null}}}
     ]}
   ], "spacing": 0, "bounds": "flush", "resolve": {"scale": {"color": "independent", "stroke": "independent"}, "legend": {"color": "independent"}}},
  {"width": 130, "height": 1, "data": {"values": []}, "mark": "point"},
  {"hconcat": [
    {"width": 23, "height": 1, "data": {"values": []}, "mark": "point"},
    {"width": 100, "height": 100, "view": {"stroke": "#a3a3a3", "strokeWidth": 0.8}, "data": {"name": "hB1"},
     "encoding": {
      "x": {"field": "log_fi", "type": "quantitative", "scale": {"domain": [-0.3, 6], "nice": false, "zero": false},
       "axis": {"title": "FcγRIIA FI", "tickCount": 200, "values": [0,0.301,0.477,0.602,0.699,0.778,0.845,0.903,0.954,1,1.301,1.477,1.602,1.699,1.778,1.845,1.903,1.954,2,2.301,2.477,2.602,2.699,2.778,2.845,2.903,2.954,3,3.301,3.477,3.602,3.699,3.778,3.845,3.903,3.954,4,4.301,4.477,4.602,4.699,4.778,4.845,4.903,4.954,5,5.301,5.477,5.602,5.699,5.778,5.845,5.903,5.954,6], "labelExpr": "datum.value % 1 === 0 ? '10' + ['⁰','¹','²','³','⁴','⁵','⁶'][datum.value] : ''", "labelFontSize": 4, "labelPadding": 1, "labelColor": "#333", "labelFontWeight": "normal", "labelOverlap": false, "labelFlush": false, "tickSize": {"condition": {"test": "datum.value % 1 === 0", "value": 2.5}, "value": 1.2}, "tickWidth": 0.6, "tickColor": "#333", "domainColor": "#444", "domainWidth": 0.7, "titleFontSize": 5.5, "titleFontWeight": "normal", "titleColor": "#333", "titlePadding": 2}},
      "y": {"field": "count", "type": "quantitative", "stack": null, "scale": {"domain": [0, 412], "nice": false},
       "axis": {"title": "Count", "tickCount": 50, "values": [0, 100, 200, 300, 400], "format": ",d", "labelFontSize": 4, "labelPadding": 1, "labelColor": "#333", "labelFontWeight": "normal", "tickSize": 2, "tickWidth": 0.6, "tickColor": "#333", "domainColor": "#444", "domainWidth": 0.7, "titleFontSize": 5.5, "titleFontWeight": "normal", "titleColor": "#333", "titlePadding": 2}}
     },
     "layer": [
      {"mark": {"type": "area", "blend": "multiply", "interpolate": "monotone"},
       "encoding": {"color": {"field": "sample", "type": "nominal", "scale": {"domain": ["10 mM VPA", "Control"], "range": ["#7fd3ee", "#f7b3b7"]},
        "legend": {"title": null, "orient": "right", "offset": -5, "padding": 0, "symbolSize": 0, "symbolStrokeWidth": 0, "symbolOpacity": 0, "labelFontSize": 5.5, "labelOffset": 0, "rowPadding": 0.5, "labelLimit": 0, "encode": {"labels": {"update": {"fill": {"signal": "datum.value === 'Control' ? '#ee4850' : '#33c5f0'"}}}}}}}},
      {"mark": {"type": "line", "strokeWidth": 0.8, "interpolate": "monotone"},
       "encoding": {"stroke": {"field": "sample", "type": "nominal", "scale": {"domain": ["10 mM VPA", "Control"], "range": ["#33c5f0", "#ee4850"]}, "legend": null}}}
     ]},
    {"width": 48, "height": 1, "data": {"values": []}, "mark": "point"},
    {"width": 100, "height": 100, "view": {"stroke": "#a3a3a3", "strokeWidth": 0.8}, "data": {"name": "hB2"},
     "encoding": {
      "x": {"field": "log_fi", "type": "quantitative", "scale": {"domain": [-0.3, 6], "nice": false, "zero": false},
       "axis": {"title": "FcγRIIA FI", "tickCount": 200, "values": [0,0.301,0.477,0.602,0.699,0.778,0.845,0.903,0.954,1,1.301,1.477,1.602,1.699,1.778,1.845,1.903,1.954,2,2.301,2.477,2.602,2.699,2.778,2.845,2.903,2.954,3,3.301,3.477,3.602,3.699,3.778,3.845,3.903,3.954,4,4.301,4.477,4.602,4.699,4.778,4.845,4.903,4.954,5,5.301,5.477,5.602,5.699,5.778,5.845,5.903,5.954,6], "labelExpr": "datum.value % 1 === 0 ? '10' + ['⁰','¹','²','³','⁴','⁵','⁶'][datum.value] : ''", "labelFontSize": 4, "labelPadding": 1, "labelColor": "#333", "labelFontWeight": "normal", "labelOverlap": false, "labelFlush": false, "tickSize": {"condition": {"test": "datum.value % 1 === 0", "value": 2.5}, "value": 1.2}, "tickWidth": 0.6, "tickColor": "#333", "domainColor": "#444", "domainWidth": 0.7, "titleFontSize": 5.5, "titleFontWeight": "normal", "titleColor": "#333", "titlePadding": 2}},
      "y": {"field": "count", "type": "quantitative", "stack": null, "scale": {"domain": [0, 535], "nice": false},
       "axis": {"title": "Count", "tickCount": 50, "values": [0, 100, 200, 300, 400, 500], "format": ",d", "labelFontSize": 4, "labelPadding": 1, "labelColor": "#333", "labelFontWeight": "normal", "tickSize": 2, "tickWidth": 0.6, "tickColor": "#333", "domainColor": "#444", "domainWidth": 0.7, "titleFontSize": 5.5, "titleFontWeight": "normal", "titleColor": "#333", "titlePadding": 2}}
     },
     "layer": [
      {"mark": {"type": "area", "blend": "multiply", "interpolate": "monotone"},
       "encoding": {"color": {"field": "sample", "type": "nominal", "scale": {"domain": ["10 µM SAHA", "Control"], "range": ["#7fd3ee", "#f7b3b7"]},
        "legend": {"title": null, "orient": "right", "offset": -5, "padding": 0, "symbolSize": 0, "symbolStrokeWidth": 0, "symbolOpacity": 0, "labelFontSize": 5.3, "labelOffset": 0, "rowPadding": 0.5, "labelLimit": 0, "encode": {"labels": {"update": {"fill": {"signal": "datum.value === 'Control' ? '#ee4850' : '#33c5f0'"}}}}}}}},
      {"mark": {"type": "line", "strokeWidth": 0.8, "interpolate": "monotone"},
       "encoding": {"stroke": {"field": "sample", "type": "nominal", "scale": {"domain": ["10 µM SAHA", "Control"], "range": ["#33c5f0", "#ee4850"]}, "legend": null}}}
     ]}
   ], "spacing": 0, "bounds": "flush", "resolve": {"scale": {"color": "independent", "stroke": "independent"}, "legend": {"color": "independent"}}},

  {"width": 50, "height": 1, "data": {"values": []}, "mark": "point",
   "title": {"text": "C", "fontSize": 26, "fontWeight": "bold", "anchor": "start", "dx": 7, "offset": 0, "baseline": "alphabetic"}},
  {"width": 283, "height": 189,
   "title": {"text": "FcγRIIB expression", "fontSize": 16.5, "fontWeight": "bold", "anchor": "middle", "offset": 0, "baseline": "alphabetic"},
   "layer": [
    {"data": {"name": "C_sum"}, "mark": {"type": "rule", "strokeWidth": 2},
     "encoding": {"x": {"field": "group", "type": "nominal", "scale": {"type": "point", "domain": ["Control", "10 mM VPA", "10 µM SAHA"], "padding": 0.66}, "axis": {"labelFontWeight": "bold", "labelAngle": 0, "labelPadding": 4, "labelOverlap": false}, "title": null},
      "y": {"field": "lo", "type": "quantitative", "scale": {"domain": [0, 150], "nice": false}, "axis": {"values": [0, 50, 100, 150], "tickCount": 20, "format": "d"}, "title": "FcγRIIB MFI"},
      "y2": {"field": "hi"},
      "color": {"field": "group", "type": "nominal", "scale": {"domain": ["Control", "10 mM VPA", "10 µM SAHA"], "range": ["#000000", "#8e8e8e", "#c9c9c9"]}, "legend": null}}},
    {"data": {"name": "C_sum"}, "mark": {"type": "tick", "size": 33, "thickness": 2, "orient": "horizontal", "opacity": 1},
     "encoding": {"x": {"field": "group", "type": "nominal", "title": null}, "y": {"field": "lo", "type": "quantitative", "title": "FcγRIIB MFI"}, "color": {"field": "group", "type": "nominal", "legend": null}}},
    {"data": {"name": "C_sum"}, "mark": {"type": "tick", "size": 33, "thickness": 2, "orient": "horizontal", "opacity": 1},
     "encoding": {"x": {"field": "group", "type": "nominal", "title": null}, "y": {"field": "hi", "type": "quantitative", "title": "FcγRIIB MFI"}, "color": {"field": "group", "type": "nominal", "legend": null}}},
    {"data": {"name": "C_sum"}, "mark": {"type": "tick", "size": 56, "thickness": 2, "orient": "horizontal", "opacity": 1},
     "encoding": {"x": {"field": "group", "type": "nominal", "title": null}, "y": {"field": "mean", "type": "quantitative", "title": "FcγRIIB MFI"}, "color": {"field": "group", "type": "nominal", "legend": null}}},
    {"data": {"name": "C_pts"}, "mark": {"type": "point", "filled": true, "opacity": 1, "size": 55},
     "encoding": {"x": {"field": "group", "type": "nominal", "title": null},
      "xOffset": {"field": "j", "type": "quantitative", "scale": {"domain": [-1, 1], "range": [-11.5, 11.5]}},
      "y": {"field": "mfi", "type": "quantitative", "title": "FcγRIIB MFI"},
      "color": {"field": "group", "type": "nominal", "legend": null},
      "shape": {"field": "group", "type": "nominal", "scale": {"domain": ["Control", "10 mM VPA", "10 µM SAHA"], "range": ["circle", "square", "triangle-up"]}, "legend": null}}}
   ]},
  {"width": 130, "height": 1, "data": {"values": []}, "mark": "point",
   "title": {"text": "D", "fontSize": 26, "fontWeight": "bold", "anchor": "start", "dx": 82, "offset": 0, "baseline": "alphabetic"}},
  {"width": 289, "height": 190,
   "title": {"text": "FcγRIII expression", "fontSize": 16.5, "fontWeight": "bold", "anchor": "middle", "offset": 0, "baseline": "alphabetic"},
   "layer": [
    {"data": {"name": "D_sum"}, "mark": {"type": "rule", "strokeWidth": 2},
     "encoding": {"x": {"field": "group", "type": "nominal", "scale": {"type": "point", "domain": ["Control", "10 mM VPA", "10 µM SAHA"], "padding": 0.67}, "axis": {"labelFontWeight": "bold", "labelAngle": 0, "labelPadding": 4, "labelOverlap": false}, "title": null},
      "y": {"field": "lo", "type": "quantitative", "scale": {"domain": [0, 10], "nice": false}, "axis": {"values": [0, 2, 4, 6, 8, 10], "tickCount": 20, "format": "d", "labelOverlap": false}, "title": "FcγRIII MFI"},
      "y2": {"field": "hi"},
      "color": {"field": "group", "type": "nominal", "scale": {"domain": ["Control", "10 mM VPA", "10 µM SAHA"], "range": ["#000000", "#8e8e8e", "#c9c9c9"]}, "legend": null}}},
    {"data": {"name": "D_sum"}, "mark": {"type": "tick", "size": 33, "thickness": 2, "orient": "horizontal", "opacity": 1},
     "encoding": {"x": {"field": "group", "type": "nominal", "title": null}, "y": {"field": "lo", "type": "quantitative", "title": "FcγRIII MFI"}, "color": {"field": "group", "type": "nominal", "legend": null}}},
    {"data": {"name": "D_sum"}, "mark": {"type": "tick", "size": 33, "thickness": 2, "orient": "horizontal", "opacity": 1},
     "encoding": {"x": {"field": "group", "type": "nominal", "title": null}, "y": {"field": "hi", "type": "quantitative", "title": "FcγRIII MFI"}, "color": {"field": "group", "type": "nominal", "legend": null}}},
    {"data": {"name": "D_sum"}, "mark": {"type": "tick", "size": 56, "thickness": 2, "orient": "horizontal", "opacity": 1},
     "encoding": {"x": {"field": "group", "type": "nominal", "title": null}, "y": {"field": "mean", "type": "quantitative", "title": "FcγRIII MFI"}, "color": {"field": "group", "type": "nominal", "legend": null}}},
    {"data": {"name": "D_pts"}, "mark": {"type": "point", "filled": true, "opacity": 1, "size": 55},
     "encoding": {"x": {"field": "group", "type": "nominal", "title": null},
      "xOffset": {"field": "j", "type": "quantitative", "scale": {"domain": [-1, 1], "range": [-11.5, 11.5]}},
      "y": {"field": "mfi", "type": "quantitative", "title": "FcγRIII MFI"},
      "color": {"field": "group", "type": "nominal", "legend": null},
      "shape": {"field": "group", "type": "nominal", "scale": {"domain": ["Control", "10 mM VPA", "10 µM SAHA"], "range": ["circle", "square", "triangle-up"]}, "legend": null}}}
   ]},

  {"width": 50, "height": 1, "data": {"values": []}, "mark": "point"},
  {"hconcat": [
    {"width": 16, "height": 1, "data": {"values": []}, "mark": "point"},
    {"width": 98, "height": 98, "view": {"stroke": "#a3a3a3", "strokeWidth": 0.8}, "data": {"name": "hC1"},
     "encoding": {
      "x": {"field": "log_fi", "type": "quantitative", "scale": {"domain": [-0.3, 6], "nice": false, "zero": false},
       "axis": {"title": "FcγRIIB FI", "tickCount": 200, "values": [0,0.301,0.477,0.602,0.699,0.778,0.845,0.903,0.954,1,1.301,1.477,1.602,1.699,1.778,1.845,1.903,1.954,2,2.301,2.477,2.602,2.699,2.778,2.845,2.903,2.954,3,3.301,3.477,3.602,3.699,3.778,3.845,3.903,3.954,4,4.301,4.477,4.602,4.699,4.778,4.845,4.903,4.954,5,5.301,5.477,5.602,5.699,5.778,5.845,5.903,5.954,6], "labelExpr": "datum.value % 1 === 0 ? '10' + ['⁰','¹','²','³','⁴','⁵','⁶'][datum.value] : ''", "labelFontSize": 4, "labelPadding": 1, "labelColor": "#333", "labelFontWeight": "normal", "labelOverlap": false, "labelFlush": false, "tickSize": {"condition": {"test": "datum.value % 1 === 0", "value": 2.5}, "value": 1.2}, "tickWidth": 0.6, "tickColor": "#333", "domainColor": "#444", "domainWidth": 0.7, "titleFontSize": 5.5, "titleFontWeight": "normal", "titleColor": "#333", "titlePadding": 2}},
      "y": {"field": "count", "type": "quantitative", "stack": null, "scale": {"domain": [0, 550], "nice": false},
       "axis": {"title": "Count", "tickCount": 50, "values": [0, 100, 200, 300, 400, 500], "format": ",d", "labelFontSize": 4, "labelPadding": 1, "labelColor": "#333", "labelFontWeight": "normal", "tickSize": 2, "tickWidth": 0.6, "tickColor": "#333", "domainColor": "#444", "domainWidth": 0.7, "titleFontSize": 5.5, "titleFontWeight": "normal", "titleColor": "#333", "titlePadding": 2}}
     },
     "layer": [
      {"mark": {"type": "area", "blend": "multiply", "interpolate": "monotone"},
       "encoding": {"color": {"field": "sample", "type": "nominal", "scale": {"domain": ["10 mM VPA", "Control"], "range": ["#7fd3ee", "#f7b3b7"]},
        "legend": {"title": null, "orient": "right", "offset": -5, "padding": 0, "symbolSize": 0, "symbolStrokeWidth": 0, "symbolOpacity": 0, "labelFontSize": 5.5, "labelOffset": 0, "rowPadding": 0.5, "labelLimit": 0, "encode": {"labels": {"update": {"fill": {"signal": "datum.value === 'Control' ? '#ee4850' : '#33c5f0'"}}}}}}}},
      {"mark": {"type": "line", "strokeWidth": 0.8, "interpolate": "monotone"},
       "encoding": {"stroke": {"field": "sample", "type": "nominal", "scale": {"domain": ["10 mM VPA", "Control"], "range": ["#33c5f0", "#ee4850"]}, "legend": null}}}
     ]},
    {"width": 49, "height": 1, "data": {"values": []}, "mark": "point"},
    {"width": 100, "height": 98, "view": {"stroke": "#a3a3a3", "strokeWidth": 0.8}, "data": {"name": "hC2"},
     "encoding": {
      "x": {"field": "log_fi", "type": "quantitative", "scale": {"domain": [-0.3, 6], "nice": false, "zero": false},
       "axis": {"title": "FcγRIIB FI", "tickCount": 200, "values": [0,0.301,0.477,0.602,0.699,0.778,0.845,0.903,0.954,1,1.301,1.477,1.602,1.699,1.778,1.845,1.903,1.954,2,2.301,2.477,2.602,2.699,2.778,2.845,2.903,2.954,3,3.301,3.477,3.602,3.699,3.778,3.845,3.903,3.954,4,4.301,4.477,4.602,4.699,4.778,4.845,4.903,4.954,5,5.301,5.477,5.602,5.699,5.778,5.845,5.903,5.954,6], "labelExpr": "datum.value % 1 === 0 ? '10' + ['⁰','¹','²','³','⁴','⁵','⁶'][datum.value] : ''", "labelFontSize": 4, "labelPadding": 1, "labelColor": "#333", "labelFontWeight": "normal", "labelOverlap": false, "labelFlush": false, "tickSize": {"condition": {"test": "datum.value % 1 === 0", "value": 2.5}, "value": 1.2}, "tickWidth": 0.6, "tickColor": "#333", "domainColor": "#444", "domainWidth": 0.7, "titleFontSize": 5.5, "titleFontWeight": "normal", "titleColor": "#333", "titlePadding": 2}},
      "y": {"field": "count", "type": "quantitative", "stack": null, "scale": {"domain": [0, 1020], "nice": false},
       "axis": {"title": "Count", "tickCount": 50, "values": [0, 200, 400, 600, 800, 1000], "format": ",d", "labelFontSize": 4, "labelPadding": 1, "labelColor": "#333", "labelFontWeight": "normal", "tickSize": 2, "tickWidth": 0.6, "tickColor": "#333", "domainColor": "#444", "domainWidth": 0.7, "titleFontSize": 5.5, "titleFontWeight": "normal", "titleColor": "#333", "titlePadding": 2}}
     },
     "layer": [
      {"mark": {"type": "area", "blend": "multiply", "interpolate": "monotone"},
       "encoding": {"color": {"field": "sample", "type": "nominal", "scale": {"domain": ["10 µM SAHA", "Control"], "range": ["#7fd3ee", "#f7b3b7"]},
        "legend": {"title": null, "orient": "right", "offset": -5, "padding": 0, "symbolSize": 0, "symbolStrokeWidth": 0, "symbolOpacity": 0, "labelFontSize": 5.5, "labelOffset": 0, "rowPadding": 0.5, "labelLimit": 0, "encode": {"labels": {"update": {"fill": {"signal": "datum.value === 'Control' ? '#ee4850' : '#33c5f0'"}}}}}}}},
      {"mark": {"type": "line", "strokeWidth": 0.8, "interpolate": "monotone"},
       "encoding": {"stroke": {"field": "sample", "type": "nominal", "scale": {"domain": ["10 µM SAHA", "Control"], "range": ["#33c5f0", "#ee4850"]}, "legend": null}}}
     ]}
   ], "spacing": 0, "bounds": "flush", "resolve": {"scale": {"color": "independent", "stroke": "independent"}, "legend": {"color": "independent"}}},
  {"width": 130, "height": 1, "data": {"values": []}, "mark": "point"},
  {"hconcat": [
    {"width": 23, "height": 1, "data": {"values": []}, "mark": "point"},
    {"width": 99, "height": 98, "view": {"stroke": "#a3a3a3", "strokeWidth": 0.8}, "data": {"name": "hD1"},
     "encoding": {
      "x": {"field": "log_fi", "type": "quantitative", "scale": {"domain": [-0.3, 6], "nice": false, "zero": false},
       "axis": {"title": "FcγRIII FI", "tickCount": 200, "values": [0,0.301,0.477,0.602,0.699,0.778,0.845,0.903,0.954,1,1.301,1.477,1.602,1.699,1.778,1.845,1.903,1.954,2,2.301,2.477,2.602,2.699,2.778,2.845,2.903,2.954,3,3.301,3.477,3.602,3.699,3.778,3.845,3.903,3.954,4,4.301,4.477,4.602,4.699,4.778,4.845,4.903,4.954,5,5.301,5.477,5.602,5.699,5.778,5.845,5.903,5.954,6], "labelExpr": "datum.value % 1 === 0 ? '10' + ['⁰','¹','²','³','⁴','⁵','⁶'][datum.value] : ''", "labelFontSize": 4, "labelPadding": 1, "labelColor": "#333", "labelFontWeight": "normal", "labelOverlap": false, "labelFlush": false, "tickSize": {"condition": {"test": "datum.value % 1 === 0", "value": 2.5}, "value": 1.2}, "tickWidth": 0.6, "tickColor": "#333", "domainColor": "#444", "domainWidth": 0.7, "titleFontSize": 5.5, "titleFontWeight": "normal", "titleColor": "#333", "titlePadding": 2}},
      "y": {"field": "count", "type": "quantitative", "stack": null, "scale": {"domain": [0, 516], "nice": false},
       "axis": {"title": "Count", "tickCount": 50, "values": [0, 100, 200, 300, 400, 500], "format": ",d", "labelFontSize": 4, "labelPadding": 1, "labelColor": "#333", "labelFontWeight": "normal", "tickSize": 2, "tickWidth": 0.6, "tickColor": "#333", "domainColor": "#444", "domainWidth": 0.7, "titleFontSize": 5.5, "titleFontWeight": "normal", "titleColor": "#333", "titlePadding": 2}}
     },
     "layer": [
      {"mark": {"type": "area", "blend": "multiply", "interpolate": "monotone"},
       "encoding": {"color": {"field": "sample", "type": "nominal", "scale": {"domain": ["10 mM VPA", "Control"], "range": ["#7fd3ee", "#f7b3b7"]},
        "legend": {"title": null, "orient": "right", "offset": -5, "padding": 0, "symbolSize": 0, "symbolStrokeWidth": 0, "symbolOpacity": 0, "labelFontSize": 5.5, "labelOffset": 0, "rowPadding": 0.5, "labelLimit": 0, "encode": {"labels": {"update": {"fill": {"signal": "datum.value === 'Control' ? '#ee4850' : '#33c5f0'"}}}}}}}},
      {"mark": {"type": "line", "strokeWidth": 0.8, "interpolate": "monotone"},
       "encoding": {"stroke": {"field": "sample", "type": "nominal", "scale": {"domain": ["10 mM VPA", "Control"], "range": ["#33c5f0", "#ee4850"]}, "legend": null}}}
     ]},
    {"width": 48, "height": 1, "data": {"values": []}, "mark": "point"},
    {"width": 100, "height": 98, "view": {"stroke": "#a3a3a3", "strokeWidth": 0.8}, "data": {"name": "hD2"},
     "encoding": {
      "x": {"field": "log_fi", "type": "quantitative", "scale": {"domain": [-0.3, 6], "nice": false, "zero": false},
       "axis": {"title": "FcγRIII FI", "tickCount": 200, "values": [0,0.301,0.477,0.602,0.699,0.778,0.845,0.903,0.954,1,1.301,1.477,1.602,1.699,1.778,1.845,1.903,1.954,2,2.301,2.477,2.602,2.699,2.778,2.845,2.903,2.954,3,3.301,3.477,3.602,3.699,3.778,3.845,3.903,3.954,4,4.301,4.477,4.602,4.699,4.778,4.845,4.903,4.954,5,5.301,5.477,5.602,5.699,5.778,5.845,5.903,5.954,6], "labelExpr": "datum.value % 1 === 0 ? '10' + ['⁰','¹','²','³','⁴','⁵','⁶'][datum.value] : ''", "labelFontSize": 4, "labelPadding": 1, "labelColor": "#333", "labelFontWeight": "normal", "labelOverlap": false, "labelFlush": false, "tickSize": {"condition": {"test": "datum.value % 1 === 0", "value": 2.5}, "value": 1.2}, "tickWidth": 0.6, "tickColor": "#333", "domainColor": "#444", "domainWidth": 0.7, "titleFontSize": 5.5, "titleFontWeight": "normal", "titleColor": "#333", "titlePadding": 2}},
      "y": {"field": "count", "type": "quantitative", "stack": null, "scale": {"domain": [0, 485], "nice": false},
       "axis": {"title": "Count", "tickCount": 50, "values": [0, 100, 200, 300, 400], "format": ",d", "labelFontSize": 4, "labelPadding": 1, "labelColor": "#333", "labelFontWeight": "normal", "tickSize": 2, "tickWidth": 0.6, "tickColor": "#333", "domainColor": "#444", "domainWidth": 0.7, "titleFontSize": 5.5, "titleFontWeight": "normal", "titleColor": "#333", "titlePadding": 2}}
     },
     "layer": [
      {"mark": {"type": "area", "blend": "multiply", "interpolate": "monotone"},
       "encoding": {"color": {"field": "sample", "type": "nominal", "scale": {"domain": ["10 µM SAHA", "Control"], "range": ["#7fd3ee", "#f7b3b7"]},
        "legend": {"title": null, "orient": "right", "offset": -5, "padding": 0, "symbolSize": 0, "symbolStrokeWidth": 0, "symbolOpacity": 0, "labelFontSize": 5.3, "labelOffset": 0, "rowPadding": 0.5, "labelLimit": 0, "encode": {"labels": {"update": {"fill": {"signal": "datum.value === 'Control' ? '#ee4850' : '#33c5f0'"}}}}}}}},
      {"mark": {"type": "line", "strokeWidth": 0.8, "interpolate": "monotone"},
       "encoding": {"stroke": {"field": "sample", "type": "nominal", "scale": {"domain": ["10 µM SAHA", "Control"], "range": ["#33c5f0", "#ee4850"]}, "legend": null}}}
     ]}
   ], "spacing": 0, "bounds": "flush", "resolve": {"scale": {"color": "independent", "stroke": "independent"}, "legend": {"color": "independent"}}}
]
}
